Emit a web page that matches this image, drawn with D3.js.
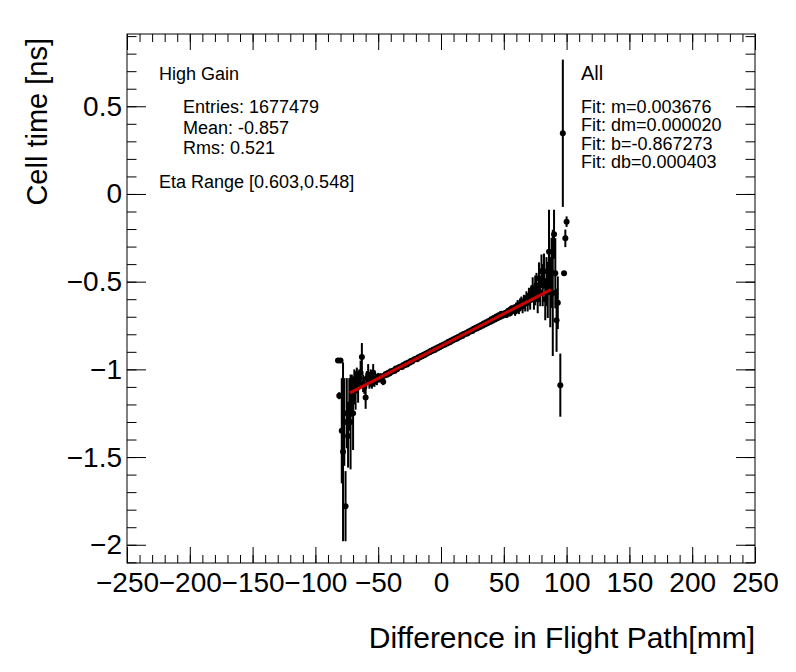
<!DOCTYPE html>
<html>
<head>
<meta charset="utf-8">
<script src="https://cdn.jsdelivr.net/npm/d3@7"></script>
<style>
  body { margin: 0; background: #fff; }
  svg text { font-family: "Liberation Sans", Arial, Helvetica, sans-serif; }
</style>
</head>
<body>
<script>
// profile bins: difference in flight path [mm]
const pathDiff = [
  -82,-81,-80,-79,-78,-77,-76,-75,-74,-73,-72,-71,-70,-69,-68,-67,-66,-65,-64,-63,
  -62,-61,-60,-59,-58,-57,-56,-55,-54,-53,-52,-51,-50,-49,-48,-47,-46,-45,
  -44,-43,-42,-41,-40,-39,-38,-37,-36,-35,-34,-33,-32,-31,-30,-29,-28,-27,-26,-25,
  -24,-23,-22,-21,-20,-19,-18,-17,-16,-15,-14,-13,-12,-11,-10,-9,-8,-7,-6,-5,-4,-3,-2,-1,
  0,1,2,3,4,5,6,7,8,9,10,11,12,13,14,15,16,17,18,19,20,21,22,23,24,25,26,27,28,29,
  30,31,32,33,34,35,36,37,38,39,40,41,42,43,44,45,46,47,48,49,
  50,51,52,53,54,55,56,57,58,59,60,61,62,63,64,65,66,67,68,69,70,71,72,73,74,75,
  76,77,78,79,80,81,82,83,84,85,86,87,88,89,90,91,92,93,95,97,98,99,100
];
// mean cell time [ns] per bin
const cellTime = [
  -0.950,-1.150,-0.950,-1.350,-1.470,-1.300,-1.780,-1.250,-1.380,-1.200,-1.300,-1.150,-1.250,-1.100,-1.120,-1.060,-1.100,-1.050,-1.020,-0.930,
  -1.080,-1.100,-1.160,-1.050,-1.030,-1.070,-1.050,-1.080,-1.020,-1.070,-1.050,-1.060,-1.040,-1.055,-1.040,-1.045,-1.070,-1.035,
  -1.026,-1.031,-1.019,-1.024,-1.011,-1.013,-1.006,-1.009,-0.995,-1.000,-0.991,-0.987,-0.983,-0.986,-0.975,-0.976,-0.966,-0.972,-0.961,-0.962,
  -0.953,-0.955,-0.947,-0.943,-0.940,-0.942,-0.931,-0.933,-0.924,-0.925,-0.917,-0.918,-0.909,-0.910,-0.902,-0.903,-0.894,-0.896,-0.887,-0.890,-0.879,-0.881,-0.873,-0.874,
  -0.865,-0.866,-0.858,-0.859,-0.851,-0.852,-0.843,-0.846,-0.836,-0.837,-0.829,-0.830,-0.821,-0.824,-0.814,-0.815,-0.806,-0.810,-0.799,-0.800,
  -0.792,-0.795,-0.784,-0.786,-0.777,-0.781,-0.769,-0.771,-0.762,-0.766,
  -0.754,-0.758,-0.747,-0.752,-0.739,-0.744,-0.732,-0.737,-0.724,-0.730,-0.714,-0.723,-0.707,-0.716,-0.699,-0.709,-0.691,-0.702,-0.683,-0.695,
  -0.685,-0.678,-0.690,-0.670,-0.665,-0.680,-0.655,-0.660,-0.650,-0.670,-0.645,-0.635,-0.655,-0.630,-0.615,-0.640,-0.610,-0.625,-0.595,-0.620,
  -0.580,-0.605,-0.570,-0.540,-0.600,-0.550,
  -0.520,-0.600,-0.480,-0.560,-0.440,-0.520,-0.440,-0.600,-0.500,-0.547,-0.330,-0.560,-0.450,-0.564,-0.230,-0.452,-0.720,-0.620,-1.090,0.346,-0.452,-0.253,-0.158
];
// error on the mean per bin
const cellTimeErr = [
  0.010,0.020,0.012,0.300,0.510,0.250,0.200,0.200,0.180,0.150,0.270,0.120,0.210,0.100,0.110,0.070,0.090,0.050,0.070,0.080,
  0.050,0.040,0.065,0.040,0.060,0.040,0.050,0.030,0.050,0.030,0.025,0.030,0.020,0.020,0.018,0.015,0.020,0.015,
  0.012,0.012,0.011,0.011,0.011,0.010,0.010,0.010,0.010,0.010,0.009,0.009,0.009,0.009,0.009,0.009,0.008,0.008,0.008,0.008,
  0.008,0.008,0.008,0.008,0.008,0.008,0.008,0.008,0.008,0.008,0.008,0.008,0.008,0.008,0.008,0.008,0.008,0.008,0.008,0.008,0.008,0.008,0.008,0.008,
  0.008,0.008,0.008,0.008,0.008,0.008,0.008,0.008,0.008,0.008,0.008,0.008,0.008,0.008,0.008,0.008,0.008,0.008,0.008,0.008,
  0.008,0.009,0.009,0.009,0.009,0.009,0.009,0.009,0.009,0.009,
  0.009,0.010,0.010,0.010,0.010,0.010,0.010,0.011,0.011,0.011,0.011,0.012,0.012,0.012,0.013,0.013,0.013,0.014,0.014,0.015,
  0.015,0.015,0.016,0.017,0.018,0.018,0.020,0.022,0.020,0.025,0.025,0.030,0.030,0.035,0.030,0.040,0.035,0.045,0.040,0.050,
  0.045,0.055,0.050,0.065,0.060,0.085,
  0.070,0.080,0.090,0.080,0.095,0.120,0.100,0.120,0.140,0.160,0.240,0.200,0.200,0.360,0.140,0.200,0.180,0.150,0.180,0.420,0.010,0.050,0.030
];

// linear fit result
const fitSlope = 0.003676;
const fitIntercept = -0.867273;
const fitRange = [-72.5, 87.5];

const xTicks = [-250, -200, -150, -100, -50, 0, 50, 100, 150, 200, 250];
const yTicks = [-2, -1.5, -1, -0.5, 0, 0.5];

const statsLeft = ["Entries: 1677479", "Mean: -0.857", "Rms: 0.521"];
const fitLines = ["Fit: m=0.003676", "Fit: dm=0.000020", "Fit: b=-0.867273", "Fit: db=0.000403"];

const W = 796, H = 672;
const frame = {left: 127, right: 755, top: 34, bottom: 563};

const svg = d3.select("body").append("svg")
  .attr("width", W).attr("height", H);

const x = d3.scaleLinear().domain([-250, 250]).range([frame.left, frame.right]);
const y = d3.scaleLinear().domain([-2.104, 0.912]).range([frame.bottom, frame.top]);

const pw = frame.right - frame.left, ph = frame.bottom - frame.top;
const xMinor = d3.range(-250, 251, 10);
const yMinor = d3.range(-21, 10).map(d => d / 10);

function styleAxis(g, size) {
  g.select(".domain").remove();
  g.selectAll("line").attr("stroke", "#000");
  g.selectAll("text").attr("fill", "#000").attr("font-size", size)
    .attr("font-family", "Liberation Sans, Arial, sans-serif");
}

// bottom axis
svg.append("g").attr("transform", `translate(0,${frame.bottom})`)
  .call(d3.axisBottom(x).tickValues(xMinor).tickSize(-8).tickFormat(""))
  .call(g => styleAxis(g));
svg.append("g").attr("transform", `translate(0,${frame.bottom})`)
  .call(d3.axisBottom(x).tickValues(xTicks).tickSize(-16).tickPadding(9)
    .tickFormat(d3.format("~g")))
  .call(g => styleAxis(g, 28));
// top axis
svg.append("g").attr("transform", `translate(0,${frame.top})`)
  .call(d3.axisTop(x).tickValues(xMinor).tickSize(-8).tickFormat(""))
  .call(g => styleAxis(g));
svg.append("g").attr("transform", `translate(0,${frame.top})`)
  .call(d3.axisTop(x).tickValues(xTicks).tickSize(-16).tickFormat(""))
  .call(g => styleAxis(g));
// left axis
svg.append("g").attr("transform", `translate(${frame.left},0)`)
  .call(d3.axisLeft(y).tickValues(yMinor).tickSize(-9.5).tickFormat(""))
  .call(g => styleAxis(g));
svg.append("g").attr("transform", `translate(${frame.left},0)`)
  .call(d3.axisLeft(y).tickValues(yTicks).tickSize(-19).tickPadding(5)
    .tickFormat(d3.format("~g")))
  .call(g => styleAxis(g, 28));
// right axis
svg.append("g").attr("transform", `translate(${frame.right},0)`)
  .call(d3.axisRight(y).tickValues(yMinor).tickSize(-9.5).tickFormat(""))
  .call(g => styleAxis(g));
svg.append("g").attr("transform", `translate(${frame.right},0)`)
  .call(d3.axisRight(y).tickValues(yTicks).tickSize(-19).tickFormat(""))
  .call(g => styleAxis(g));

// frame
svg.append("rect")
  .attr("x", frame.left).attr("y", frame.top)
  .attr("width", pw).attr("height", ph)
  .attr("fill", "none").attr("stroke", "#000").attr("stroke-width", 1);

// axis titles
svg.append("text")
  .attr("x", frame.right).attr("y", 648)
  .attr("text-anchor", "end").attr("font-size", 30)
  .text("Difference in Flight Path[mm]");
svg.append("text")
  .attr("transform", `translate(47,${frame.top + 4}) rotate(-90)`)
  .attr("text-anchor", "end").attr("font-size", 29)
  .text("Cell time [ns]");

// profile points with error bars
const points = pathDiff.map((d, i) => ({x: d, y: cellTime[i], e: cellTimeErr[i]}));
const plot = svg.append("g");
plot.selectAll(".err")
  .data(points).enter().append("line")
  .attr("class", "err")
  .attr("x1", d => x(d.x)).attr("x2", d => x(d.x))
  .attr("y1", d => y(d.y - d.e)).attr("y2", d => y(d.y + d.e))
  .attr("stroke", "#000").attr("stroke-width", 2);
plot.selectAll(".point")
  .data(points).enter().append("circle")
  .attr("class", "point")
  .attr("cx", d => x(d.x)).attr("cy", d => y(d.y))
  .attr("r", 3).attr("fill", "#000");

// fit line
const fitLine = d3.line().x(d => x(d)).y(d => y(fitSlope * d + fitIntercept));
svg.append("path")
  .attr("d", fitLine(fitRange))
  .attr("fill", "none").attr("stroke", "#cc0000").attr("stroke-width", 3);

// info text
svg.append("text").attr("x", 159).attr("y", 80).attr("font-size", 18).text("High Gain");
svg.selectAll(".stat").data(statsLeft).enter().append("text")
  .attr("class", "stat")
  .attr("x", 183).attr("y", (d, i) => 113 + i * 20.5)
  .attr("font-size", 18).text(d => d);
svg.append("text").attr("x", 159).attr("y", 188).attr("font-size", 18)
  .text("Eta Range [0.603,0.548]");

svg.append("text").attr("x", 581).attr("y", 80).attr("font-size", 20).text("All");
svg.selectAll(".fit").data(fitLines).enter().append("text")
  .attr("class", "fit")
  .attr("x", 581).attr("y", (d, i) => 113 + i * 18.4)
  .attr("font-size", 18).text(d => d);
</script>
</body>
</html>
